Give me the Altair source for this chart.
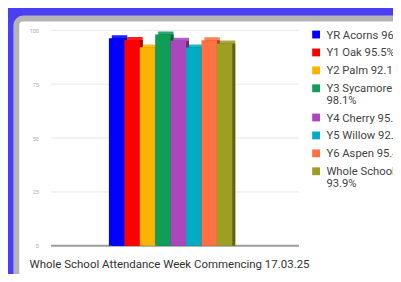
import altair as alt
import pandas as pd

# ---- data ----
CLASSES = ["YR Acorns", "Y1 Oak", "Y2 Palm", "Y3 Sycamore",
           "Y4 Cherry", "Y5 Willow", "Y6 Aspen", "Whole School"]
ATTENDANCE = [96.3, 95.5, 92.1, 98.1, 95.2, 92.0, 95.4, 93.9]
Y_TICKS = [0, 25, 50, 75, 100]
TITLE = "Whole School Attendance Week Commencing 17.03.25"

# ---- styling ----
COLORS = ["#0000ff", "#ff0000", "#f9b300", "#0f9d58",
          "#ab47bc", "#00acc1", "#ff7043", "#9e9d24"]
PAGE_BG = "#4a3ff2"
CARD_BORDER = "#b4b4b4"


def shade(c, f):
    r, g, b = (int(c[i:i + 2], 16) for i in (1, 3, 5))
    if f < 1:
        r, g, b = (int(v * f) for v in (r, g, b))
    else:
        t = f - 1
        r, g, b = (int(v + (255 - v) * t) for v in (r, g, b))
    return "#%02x%02x%02x" % (r, g, b)


DARK = [shade(c, 0.62) for c in COLORS]
LIGHT = [shade(c, 1.12) for c in COLORS]

labels = []
extra_before = []
extra = 0
for name, v in zip(CLASSES, ATTENDANCE):
    lab = f"{name} {v}%"
    extra_before.append(extra)
    if len(lab) > 16:
        head, tail = lab.rsplit(" ", 1)
        lab = head + "\n" + tail
        extra += 1
    labels.append(lab)

df = pd.DataFrame({
    "cls": CLASSES,
    "val": ATTENDANCE,
    "label": labels,
    "row": list(range(len(CLASSES))),
    "extra": extra_before,
})

xenc = alt.X("cls:N", sort=CLASSES, axis=None,
             scale=alt.Scale(paddingInner=0, paddingOuter=0, range=[59, 185]))
yscale = alt.Scale(domain=[0, 100], nice=False)


def cscale(rng):
    return alt.Color("cls:N", scale=alt.Scale(domain=CLASSES, range=rng), legend=None)


card = alt.Chart(pd.DataFrame({"a": [0]})).mark_rect(
    fill="white", stroke=CARD_BORDER, strokeWidth=6, cornerRadius=7
).encode(x=alt.value(-35.5), x2=alt.value(420), y=alt.value(-12), y2=alt.value(400))

grid = alt.Chart(pd.DataFrame({"t": Y_TICKS})).mark_rule(
    color="#e6e6e6", strokeWidth=1
).encode(y=alt.Y("t:Q", scale=yscale,
                 axis=alt.Axis(values=Y_TICKS, grid=False, domain=False, ticks=False,
                               labelFontSize=5.5, labelColor="#aaaaaa", labelFont="Roboto",
                               labelPadding=13, title=None, zindex=1)))

baseline = alt.Chart(pd.DataFrame({"t": [0]})).mark_rule(
    color="#9c9c9c", strokeWidth=2
).encode(y=alt.Y("t:Q", scale=yscale))

base = alt.Chart(df).encode(x=xenc, y=alt.Y("val:Q", scale=yscale, title=None))
top_face = base.mark_bar(xOffset=3, yOffset=-3).encode(color=cscale(LIGHT))
side_face = base.mark_bar(xOffset=3).encode(color=cscale(DARK))
front = base.mark_bar().encode(color=cscale(COLORS))

leg = alt.Chart(df).transform_calculate(
    ly="datum.row * 18.3 + datum.extra * 11.5 + 4.3"
)
leg_sym = leg.mark_square(size=64, opacity=1).encode(
    x=alt.value(270.5), y=alt.Y("ly:Q", scale=None, axis=None), color=cscale(COLORS)
)
leg_txt = leg.mark_text(
    align="left", baseline="alphabetic", dy=4.1, lineBreak="\n", lineHeight=11.5,
    fontSize=11.5, font="Roboto", color="#444444"
).encode(x=alt.value(281), y=alt.Y("ly:Q", scale=None, axis=None), text="label:N")

title = alt.Chart(pd.DataFrame({"t": [TITLE]})).mark_text(
    align="left", baseline="middle", fontSize=11.7, font="Roboto", color="#333333"
).encode(x=alt.value(-22), y=alt.value(239), text="t:N")

chart = alt.layer(
    card, grid, baseline, top_face, side_face, front, leg_sym, leg_txt, title
).resolve_scale(color="independent").properties(
    width=253, height=220,
    padding={"left": 44, "top": 20, "right": 96, "bottom": 26},
    autosize=alt.AutoSizeParams(type="none"),
    background=PAGE_BG,
).configure_view(stroke=None)

chart.save("out.html", embed_options={"renderer": "svg", "actions": False})
